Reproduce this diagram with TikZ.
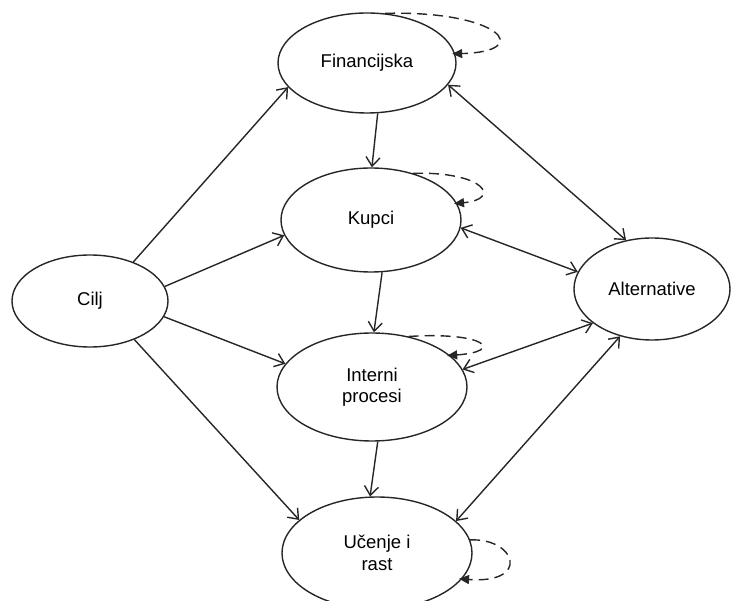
\documentclass[tikz,border=0pt]{standalone}
\usepackage{fontspec}
\setmainfont{Liberation Sans}
\usetikzlibrary{shapes.geometric,arrows.meta}
\tikzstyle{block}=[ellipse, draw=black!85, line width=1.4pt, inner sep=0pt, align=center, font=\fontsize{18.5}{21.5}\selectfont]
\tikzstyle{link}=[draw=black!85, line width=1.4pt, -{Straight Barb[length=9pt,width=14pt]}]
\tikzstyle{twoway}=[link, {Straight Barb[length=9pt,width=14pt]}-{Straight Barb[length=9pt,width=14pt]}]
\tikzstyle{selfloop}=[draw=black!85, line width=1.4pt, dash pattern=on 10pt off 6pt, -{Triangle[length=10pt,width=9pt]}, shorten >=-3pt]
\begin{document}
\begin{tikzpicture}[x=1pt,y=-1pt]
\useasboundingbox (0,0) rectangle (739,601);
\node[block, minimum width=156pt, minimum height=92pt] (cilj) at (90,301) {Cilj};
\node[block, minimum width=178pt, minimum height=100pt] (fin) at (367,63) {Financijska};
\node[block, minimum width=180pt, minimum height=104pt] (kup) at (371,220) {Kupci};
\node[block, minimum width=190pt, minimum height=108pt] (int) at (372,387) {Interni\\procesi};
\node[block, minimum width=190pt, minimum height=112pt] (uce) at (377,553) {Učenje i\\rast};
\node[block, minimum width=156pt, minimum height=102pt] (alt) at (652,289) {Alternative};
\draw[link] (cilj.42) -- (fin.197);
\draw[link] (cilj.11) -- (kup.190);
\draw[link] (cilj.-12) -- (int.165);
\draw[link] (cilj.-41) -- (uce.157);
\draw[link] (fin.-78) -- (kup.89);
\draw[link] (kup.-78) -- (int.88);
\draw[link] (int.-84) -- (uce.97);
\draw[twoway] (fin.-15) -- (alt.118);
\draw[twoway] (kup.-5) -- (alt.167);
\draw[twoway] (int.11) -- (alt.210);
\draw[twoway] (uce.22) -- (alt.236);
\draw[selfloop] (fin.70) .. controls +(115,-3) and +(80,-2) .. (fin.6);
\draw[selfloop] (kup.48) .. controls +(72,-2) and +(45,-4) .. (kup.11);
\draw[selfloop] (int.54) .. controls +(77,-5) and +(55,-4) .. (int.22);
\draw[selfloop] (uce.8) .. controls +(46,-2) and +(69,5) .. (uce.-17);
\end{tikzpicture}
\end{document}
